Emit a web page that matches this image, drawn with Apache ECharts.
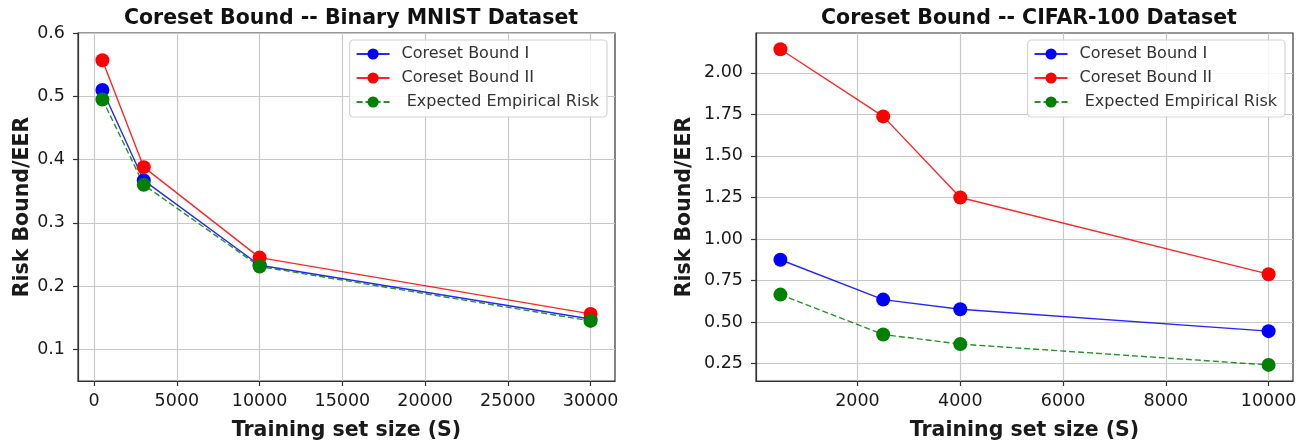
<!DOCTYPE html>
<html>
<head>
<meta charset="utf-8">
<script src="https://cdn.jsdelivr.net/npm/echarts@6/dist/echarts.min.js"></script>
<style>html,body{margin:0;padding:0;background:#fff;}#c{width:1304px;height:441px;}</style>
</head>
<body>
<div id="c"></div>
<script>
// ---- data ----
var seriesNames = ['Coreset Bound I', 'Coreset Bound II', ' Expected Empirical Risk'];

var mnistSizes = [500, 3000, 10000, 30000];
var mnistBoundI = [0.510, 0.367, 0.233, 0.148];
var mnistBoundII = [0.557, 0.388, 0.245, 0.156];
var mnistEER = [0.495, 0.360, 0.231, 0.145];

var cifarSizes = [500, 2500, 4000, 10000];
var cifarBoundI = [0.875, 0.635, 0.577, 0.445];
var cifarBoundII = [2.142, 1.738, 1.250, 0.788];
var cifarEER = [0.665, 0.425, 0.367, 0.242];

var mnistXTicks = [0, 5000, 10000, 15000, 20000, 25000, 30000];
var mnistYTicks = [0.1, 0.2, 0.3, 0.4, 0.5, 0.6];
var cifarXTicks = [2000, 4000, 6000, 8000, 10000];
var cifarYTicks = [0.25, 0.50, 0.75, 1.00, 1.25, 1.50, 1.75, 2.00];

var titles = ['Coreset Bound -- Binary MNIST Dataset', 'Coreset Bound -- CIFAR-100 Dataset'];
var xName = 'Training set size (S)';
var yName = 'Risk Bound/EER';

// ---- styling ----
var colors = ['#0000ff', '#ff0000', '#008000'];
var FONT = 'DejaVu Sans';
var TXT = '#1a1a1a';

function zip(xs, ys) { return xs.map(function (x, i) { return [x, ys[i]]; }); }

function xAxis(gridIndex, min, max, ticks) {
  return {
    type: 'value', gridIndex: gridIndex, min: min, max: max,
    name: xName, nameLocation: 'middle', nameGap: 39,
    nameTextStyle: { fontFamily: FONT, fontSize: 20.5, fontWeight: 'bold', color: TXT },
    axisLine: { show: true, onZero: false, lineStyle: { color: '#333', width: 1.2 } },
    axisTick: { show: true, inside: false, length: 5, lineStyle: { color: '#333', width: 1.2 }, customValues: ticks },
    axisLabel: { fontFamily: FONT, fontSize: 17.5, color: TXT, margin: 11, customValues: ticks,
      formatter: function (v) { return String(v); } },
    splitLine: { show: true, lineStyle: { color: '#c8c8c8', width: 1.2 } }
  };
}
function yAxis(gridIndex, min, max, ticks, fmt, gap) {
  return {
    type: 'value', gridIndex: gridIndex, min: min, max: max,
    name: yName, nameLocation: 'middle', nameGap: gap, nameRotate: 90,
    nameTextStyle: { fontFamily: FONT, fontSize: 20.5, fontWeight: 'bold', color: TXT },
    axisLine: { show: true, onZero: false, lineStyle: { color: '#333', width: 1.2 } },
    axisTick: { show: true, inside: false, length: 5, lineStyle: { color: '#333', width: 1.2 }, customValues: ticks },
    axisLabel: { fontFamily: FONT, fontSize: 17.5, color: TXT, margin: 13, customValues: ticks,
      formatter: function (v) { return v.toFixed(fmt); } },
    splitLine: { show: true, lineStyle: { color: '#c8c8c8', width: 1.2 } }
  };
}
function series(name, idx, data, axisIdx) {
  return {
    name: name, type: 'line', xAxisIndex: axisIdx, yAxisIndex: axisIdx,
    data: data, symbol: 'circle', symbolSize: 14, showSymbol: true,
    itemStyle: { color: colors[idx] },
    lineStyle: { color: colors[idx], width: 1.4, type: idx === 2 ? [6, 3] : 'solid', opacity: 0.85 },
    emphasis: { disabled: true }, animation: false
  };
}
function legend(right) {
  return {
    data: seriesNames, orient: 'vertical', right: right, top: 40,
    padding: [6, 8, 7, 6], itemGap: 8, itemWidth: 33, itemHeight: 14,
    backgroundColor: 'rgba(255,255,255,0.85)', borderColor: '#d4d4d4', borderWidth: 1.2, borderRadius: 4,
    textStyle: { fontFamily: FONT, fontSize: 16, color: '#333', padding: [0, 0, 0, 7] },
    selectedMode: false
  };
}

var chart = echarts.init(document.getElementById('c'), null, { renderer: 'canvas' });
chart.setOption({
  backgroundColor: '#fff',
  animation: false,
  title: [
    { text: titles[0], left: 346, top: 3, textAlign: 'center',
      textStyle: { fontFamily: FONT, fontSize: 20.5, fontWeight: 'bold', color: '#111' } },
    { text: titles[1], left: 1024, top: 3, textAlign: 'center',
      textStyle: { fontFamily: FONT, fontSize: 20.5, fontWeight: 'bold', color: '#111' } }
  ],
  grid: [
    { left: 78, right: 689, top: 33, bottom: 60, show: true, borderColor: '#333', borderWidth: 1.2,
      backgroundColor: 'transparent', outerBoundsMode: 'none', containLabel: false },
    { left: 756, right: 11, top: 33, bottom: 60, show: true, borderColor: '#333', borderWidth: 1.2,
      backgroundColor: 'transparent', outerBoundsMode: 'none', containLabel: false }
  ],
  xAxis: [
    xAxis(0, -975, 31475, mnistXTicks),
    xAxis(1, 25, 10475, cifarXTicks)
  ],
  yAxis: [
    yAxis(0, 0.05, 0.6, mnistYTicks, 1, 44),
    yAxis(1, 0.145, 2.24, cifarYTicks, 2, 61)
  ],
  legend: [legend(697), legend(19)],
  series: [
    series(seriesNames[0], 0, zip(mnistSizes, mnistBoundI), 0),
    series(seriesNames[1], 1, zip(mnistSizes, mnistBoundII), 0),
    series(seriesNames[2], 2, zip(mnistSizes, mnistEER), 0),
    series(seriesNames[0], 0, zip(cifarSizes, cifarBoundI), 1),
    series(seriesNames[1], 1, zip(cifarSizes, cifarBoundII), 1),
    series(seriesNames[2], 2, zip(cifarSizes, cifarEER), 1)
  ]
});
</script>
</body>
</html>
